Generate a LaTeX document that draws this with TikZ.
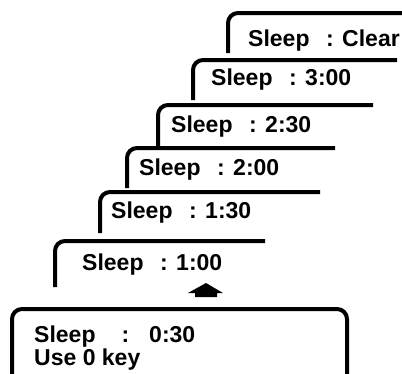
\documentclass[tikz,border=0pt]{standalone}
\usepackage{fontspec}
\setmainfont{Liberation Sans}
\begin{document}
\begin{tikzpicture}[x=1pt,y=-1pt,
  card/.style={line width=4pt,rounded corners=10pt,line cap=butt},
  lbl/.style={anchor=base west,inner sep=0pt,font=\fontsize{23}{23}\selectfont\bfseries},
  arrowshape/.style={fill=black,draw=none}]
\useasboundingbox (0,0) rectangle (402,373);
% cards
\draw[card] (228,53) -- (228,13) -- (404,13);
\draw[card] (193,100) -- (193,60) -- (397,60);
\draw[card] (158,147) -- (158,105) -- (373,105);
\draw[card] (127,188) -- (127,148) -- (335,148);
\draw[card] (100,233) -- (100,192) -- (320,192);
\draw[card] (55,287) -- (55,241) -- (265,241);
% bottom box
\draw[card] (12,376) -- (12,309) -- (347,309) -- (347,376);
% labels
\node[lbl] (tclear) at (248,46) {Sleep\hspace{16.5pt}: Clear};
\node[lbl] (t300) at (211,85) {Sleep\hspace{16.5pt}: 3:00};
\node[lbl] (t230) at (171,132) {Sleep\hspace{16.5pt}: 2:30};
\node[lbl] (t200) at (139,175) {Sleep\hspace{16.5pt}: 2:00};
\node[lbl] (t130) at (111,218) {Sleep\hspace{16.5pt}: 1:30};
\node[lbl] (t100) at (82,270) {Sleep\hspace{16.5pt}: 1:00};
\node[lbl] (tcur) at (34,342) {Sleep\hspace{26pt}:\hspace{20pt}0:30};
\node[lbl] (tkey) at (34,365) {Use 0 key};
% arrow
\fill[arrowshape] (206,283) -- (223,293) -- (217,293) -- (217,297) -- (195,297) -- (195,293) -- (188,293) -- cycle;
\end{tikzpicture}
\end{document}
